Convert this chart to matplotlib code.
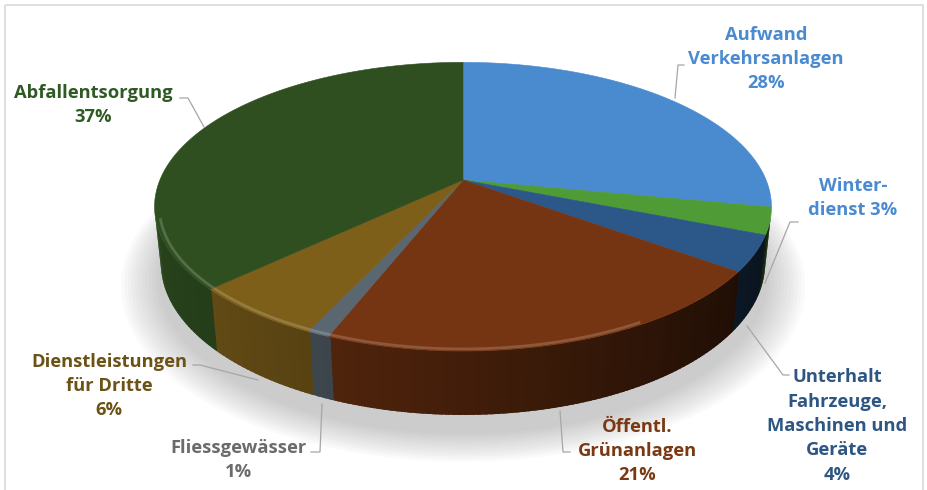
import numpy as np
import matplotlib.pyplot as plt
from matplotlib.patches import Polygon, Rectangle
from matplotlib.colors import to_rgb

# data
labels = ['Aufwand\nVerkehrsanlagen', 'Winter-\ndienst', 'Unterhalt\nFahrzeuge,\nMaschinen und\nGeräte',
          'Öffentl.\nGrünanlagen', 'Fliessgewässer', 'Dienstleistungen\nfür Dritte', 'Abfallentsorgung']
shares = [28, 3, 4, 21, 1, 6, 37]
slice_colors = ['#4a8bd0', '#4f9c36', '#2c5889', '#763512', '#5a6670', '#7e5f1a', '#2f4f21']
text_colors = ['#4a8ad0', '#4a8ad0', '#2e5683', '#7a3813', '#6b6b6b', '#6b5317', '#2f5a23']

# label placement (pixel coords), leader lines, whether pct sits on the same line
label_pos = [(766, 59), (853, 198), (837, 426), (637, 451), (239, 460), (109, 386), (93, 105)]
leaders = [[(675, 98), (678, 65), (684, 65)],
           [(765, 283), (790, 222), (798, 222)],
           [(747, 326), (783, 375), (789, 375)],
           [(560, 411), (563, 452), (570, 452)],
           [(322, 404), (320, 452), (311, 452)],
           [(258, 380), (200, 365), (193, 365)],
           [(204, 127), (188, 98), (180, 98)]]
pct_inline = [False, True, False, False, False, False, False]

# perspective set-up for the 3d pie
W, H = 927, 490
cx, cy = 463, 180
s_a, c_a = 0.46, 0.888
D, F = 4.80, 1455
h = 0.211


def project(x, y, z):
    depth = y * c_a - z * s_a + D
    return cx + F * x / depth, cy - F * (y * s_a + z * c_a) / depth


def shade(col, f):
    r, g, b = to_rgb(col)
    return (r * f, g * f, b * f)


def lighten(col, f):
    r, g, b = to_rgb(col)
    return (r + (1 - r) * f, g + (1 - g) * f, b + (1 - b) * f)


fig = plt.figure(figsize=(W / 100, H / 100), dpi=100)
ax = fig.add_axes([0, 0, 1, 1])
ax.set_xlim(0, W)
ax.set_ylim(H, 0)
ax.axis('off')

ax.add_patch(Rectangle((5, 5), 918, 500, fill=False, ec='#d9d9d9', lw=1.2, zorder=0))

# soft shadow under the pie
tt = np.radians(np.linspace(0, 360, 361))
for k in range(12):
    r = 1.0 + 0.011 * k
    xs, ys = project(r * np.cos(tt), r * np.sin(tt) - 0.04, -h - 0.02)
    ax.add_patch(Polygon(np.column_stack([xs, ys + 4]), closed=True,
                         fc='#7a7a7a', ec='none', alpha=0.035, zorder=1))

# slice angles, clockwise from 12 o'clock
bounds = 90 - 360 * np.concatenate([[0], np.cumsum(shares)]) / sum(shares)
vis = np.degrees(np.arcsin(1 / (D * c_a)))
vis_hi, vis_lo = -vis, -180 + vis

# side walls, drawn as thin strips to get some shading
for i, col in enumerate(slice_colors):
    t0, t1 = bounds[i], bounds[i + 1]
    for a, b in [(t0, t1), (t0 - 360, t1 - 360)]:
        hi, lo = min(a, vis_hi), max(b, vis_lo)
        if hi <= lo:
            continue
        edges = np.linspace(hi, lo, max(int((hi - lo) / 1.0), 1) + 1)
        for e0, e1 in zip(edges[:-1], edges[1:]):
            tm = np.radians(0.5 * (e0 + e1))
            f = 0.5 + 0.33 * np.cos(tm - np.radians(-170))
            # overlap each strip a little so no seams show
            seg = np.radians([e0 + 0.4, e1 - 0.4])
            x0, y0 = project(np.cos(seg), np.sin(seg), 0)
            x1, y1 = project(np.cos(seg), np.sin(seg), -h)
            pts = np.column_stack([np.r_[x0, x1[::-1]], np.r_[y0, y1[::-1]]])
            ax.add_patch(Polygon(pts, closed=True, fc=shade(col, f), ec='none',
                                 zorder=2))

# top faces
for i, col in enumerate(slice_colors):
    tt = np.radians(np.linspace(bounds[i], bounds[i + 1], 120))
    xs, ys = project(np.cos(tt), np.sin(tt), 0)
    pts = np.column_stack([np.r_[cx, xs], np.r_[cy, ys]])
    ax.add_patch(Polygon(pts, closed=True, fc=col, ec=col, lw=0.4, zorder=3))
    # bevel highlight on the front rim
    hi, lo = min(bounds[i], -60), max(bounds[i + 1], -165)
    if hi > lo:
        tt = np.radians(np.linspace(hi, lo, 60))
        xs, ys = project(0.985 * np.cos(tt), 0.985 * np.sin(tt), 0)
        ax.plot(xs, ys + 1, color=lighten(col, 0.35), lw=2.0, alpha=0.5,
                solid_capstyle='butt', zorder=4)

# leader lines and labels
for i, lab in enumerate(labels):
    pts = np.array(leaders[i])
    ax.plot(pts[:, 0], pts[:, 1], color='#a6a6a6', lw=0.9, zorder=5)
    sep = ' ' if pct_inline[i] else '\n'
    txt = lab + sep + '{}%'.format(shares[i])
    ax.text(label_pos[i][0], label_pos[i][1], txt, ha='center', va='center',
            color=text_colors[i], fontsize=13.2, fontweight='bold',
            family='Open Sans', linespacing=1.46, zorder=6)

fig.savefig('out.png', dpi=100)
